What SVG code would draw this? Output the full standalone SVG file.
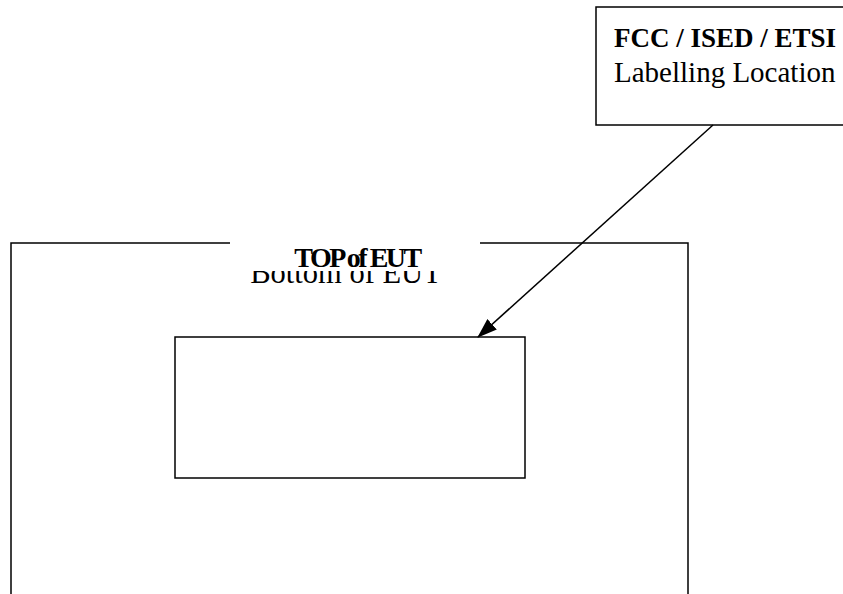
<svg xmlns="http://www.w3.org/2000/svg" width="843" height="594" viewBox="0 0 843 594">
<style>
.ln{fill:none;stroke:#000;stroke-width:1.5}
.t{font-family:"Liberation Serif","Times New Roman",serif;fill:#000}
</style>
<defs>
<marker id="ah" markerWidth="20" markerHeight="14" refX="19" refY="7" orient="auto" markerUnits="userSpaceOnUse">
<path d="M0,0 L20,7 L0,14 z" fill="#000"/>
</marker>
</defs>
<rect width="843" height="594" fill="#fff"/>
<g id="eut">
<path class="ln" d="M241,243 H11 V594 M472,243 H688 V594"/>
<text class="t" x="346" y="283" font-size="30.5" text-anchor="middle">Bottom of EUT</text>
<rect x="230" y="236" width="250" height="35" fill="#fff"/>
<text class="t" x="357" y="267" font-size="28" font-weight="bold" text-anchor="middle" letter-spacing="-2.5">TOP of EUT</text>
</g>
<g id="label-area">
<rect class="ln" x="175" y="337" width="350" height="141"/>
</g>
<g id="callout">
<rect class="ln" x="596" y="7" width="260" height="118"/>
<text class="t" x="614" y="47" font-size="27" font-weight="bold">FCC / ISED / ETSI</text>
<text class="t" x="614" y="82" font-size="29">Labelling Location</text>
</g>
<g id="connectors">
<line class="ln" x1="713" y1="125" x2="478" y2="337" marker-end="url(#ah)"/>
</g>
</svg>
